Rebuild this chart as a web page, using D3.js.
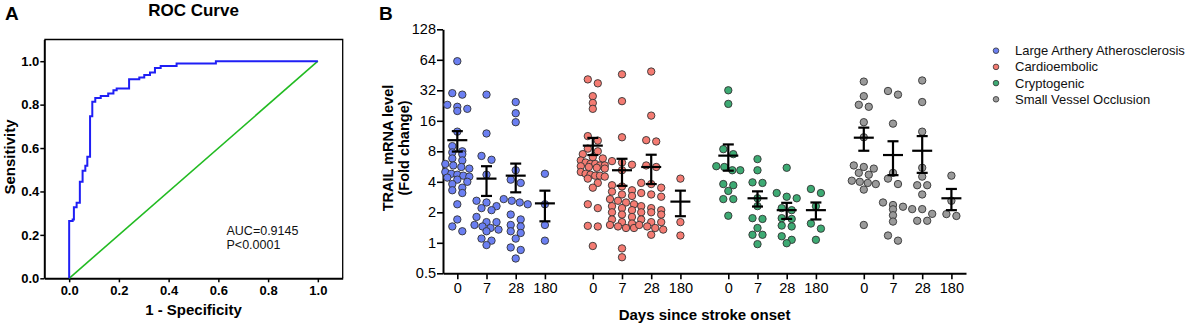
<!DOCTYPE html>
<html><head><meta charset="utf-8">
<script src="https://cdn.jsdelivr.net/npm/d3@7"></script>
<style>body{margin:0;background:#fff}svg{display:block}text{font-family:"Liberation Sans",Arial,sans-serif}</style>
</head><body>
<script>
// ---------- Panel A data ----------
const rocFpr = [0, 0, 0.014, 0.019, 0.030, 0.043, 0.054, 0.065, 0.073, 0.084, 0.093, 0.105, 0.127, 0.157, 0.178, 0.191, 0.241, 0.282, 0.302, 0.325, 0.345, 0.368, 0.432, 0.590, 1.0];
const rocTpr = [0, 0.264, 0.271, 0.327, 0.348, 0.445, 0.495, 0.518, 0.560, 0.747, 0.813, 0.831, 0.840, 0.851, 0.866, 0.874, 0.917, 0.925, 0.937, 0.948, 0.969, 0.978, 0.989, 1.0, 1.0];
const ticksA = [0, 0.2, 0.4, 0.6, 0.8, 1.0];
const aucText = ["AUC=0.9145", "P<0.0001"];

// ---------- Panel B data ----------
const groups = ["Large Arthery Atherosclerosis", "Cardioembolic", "Cryptogenic", "Small Vessel Occlusion"];
const days = ["0", "7", "28", "180"];
const yTicksB = [0.5, 1, 2, 4, 8, 16, 32, 64, 128];
const colors = ["#6b7ff2", "#f47b72", "#3daa73", "#9a9a9a"];

const laa0 = [62, 30, 29, 23, 22, 21, 20, 12.5, 9, 8, 7.8, 7.5, 6.8, 6.5, 6, 5.8, 5.6, 5.4, 5, 4.8, 4.7, 4.6, 4.5, 4.4, 4.2, 4, 3.8, 3.5, 3.3, 3.1, 2.4, 1.7, 1.45, 1.3];
const laa7 = [29, 12, 7.2, 6.6, 4.7, 2.6, 2.5, 2.3, 2.2, 2.1, 1.8, 1.6, 1.6, 1.5, 1.45, 1.4, 1.35, 1.3, 1.1, 1.05, 0.95];
const laa28 = [24.5, 19, 15.5, 5.2, 4.2, 3.9, 2.7, 2.6, 2.5, 2.4, 1.9, 1.7, 1.5, 1.45, 1.3, 1.25, 1.1, 0.9, 0.85, 0.7];
const laa180 = [4.8, 2.4, 1.5, 1.05];
const ce0 = [41, 37.5, 28, 24, 21, 11.3, 10.2, 8.5, 8, 7.5, 7, 6.8, 6.5, 6.2, 6, 6, 5.8, 5.8, 5.7, 5.6, 5.5, 5.4, 5, 4.8, 4.7, 4.6, 4.6, 4.5, 4.3, 3.9, 3.5, 2.4, 2.2, 1.47, 1.45, 0.93];
const ce7 = [46, 25, 11, 6.4, 6.2, 5.9, 5.2, 3.7, 3.6, 3.3, 3.2, 3.0, 2.9, 2.7, 2.6, 2.5, 2.4, 2.3, 2.2, 2.1, 2.0, 1.9, 1.8, 1.7, 1.6, 1.55, 1.5, 1.45, 1.4, 1.4, 0.88, 0.72];
const ce28 = [49, 18, 10.3, 10, 5.8, 5.6, 3.9, 3.8, 3.5, 3.1, 3.0, 2.85, 2.3, 2.2, 2.1, 2.0, 2.0, 1.9, 1.7, 1.6, 1.6, 1.5, 1.45, 1.4, 1.35, 1.2];
const ce180 = [4.3, 1.6, 1.18];
const cr0 = [32, 23.5, 8.4, 7.5, 5.7, 5.6, 5.2, 5.2, 3.8, 3.7, 3.25, 2.7, 2.7, 1.85];
const cr7 = [6.7, 5.2, 3.95, 3.9, 2.75, 2.3, 1.75, 1.72, 1.4, 1.2, 1.2, 0.97];
const cr28 = [5.5, 3.1, 2.85, 2.75, 2.2, 2.1, 1.75, 1.72, 1.48, 1.45, 1.16, 1.07, 0.99];
const cr180 = [3.4, 3.1, 2.3, 1.55, 1.38, 1.07];
const svo0 = [39, 28, 23, 22, 15.5, 11, 5.8, 5.6, 5.4, 4.9, 4.7, 4.1, 4.0, 3.9, 3.8, 3.35, 1.5];
const svo7 = [31.5, 29, 15, 4.9, 4.3, 3.8, 2.5, 2.36, 2.27, 2.14, 1.87, 1.62, 1.18, 1.05];
const svo28 = [40, 24.5, 12.5, 5.5, 4.5, 3.7, 3.7, 3.0, 2.15, 2.15, 1.93, 1.65, 1.65];
const svo180 = [4.6, 2.6, 1.92, 1.84];

const means = [[10.3, 4.3, 4.6, 2.45], [9.1, 5.2, 5.6, 2.55], [7.25, 2.75, 2.1, 2.1], [10.9, 7.35, 8.1, 2.75]];
const sems  = [[2.35, 1.4, 1.45, 0.82], [1.75, 1.55, 1.8, 0.72], [2.1, 0.47, 0.38, 0.4], [2.8, 2.7, 3.2, 0.65]];
const values = [[laa0, laa7, laa28, laa180], [ce0, ce7, ce28, ce180], [cr0, cr7, cr28, cr180], [svo0, svo7, svo28, svo180]];

const W = 1199, H = 327;
const svg = d3.select("body").append("svg").attr("width", W).attr("height", H);

// ================= Panel A =================
const xA = d3.scaleLinear().domain([-0.1, 1.1]).range([44.3, 342.7]);
const yA = d3.scaleLinear().domain([0, 1.1]).range([278.3, 39.5]);
const gA = svg.append("g");

gA.append("text").attr("x", 5).attr("y", 20).attr("font-size", 19).attr("font-weight", "bold").text("A");
gA.append("text").attr("x", 193.5).attr("y", 16).attr("text-anchor", "middle").attr("font-size", 17).attr("font-weight", "bold").text("ROC Curve");

gA.append("path").attr("d", `M${xA(-0.1)},${yA(1.1)}H${xA(1.1)}V${yA(0)}`).attr("fill", "none").attr("stroke", "#000").attr("stroke-width", 1.3);

const axAx = gA.append("g").attr("transform", `translate(0,${yA(0)})`)
  .call(d3.axisBottom(xA).tickValues(ticksA).tickFormat(d3.format(".1f")).tickSize(4).tickSizeOuter(0));
const axAy = gA.append("g").attr("transform", `translate(${xA(-0.1)},0)`)
  .call(d3.axisLeft(yA).tickValues(ticksA).tickFormat(d3.format(".1f")).tickSize(4).tickSizeOuter(0));
[axAx, axAy].forEach(a => {
  a.select(".domain").attr("stroke-width", 2);
  a.selectAll(".tick line").attr("stroke-width", 1.5);
  a.selectAll(".tick text").attr("font-size", 13).attr("font-weight", "bold").attr("fill", "#000")
    .attr("font-family", '"Liberation Sans",Arial,sans-serif');
});
axAx.selectAll(".tick text").attr("dy", "0.71em").attr("y", 7);
axAy.selectAll(".tick text").attr("x", -5);

gA.append("line").attr("x1", xA(0)).attr("y1", yA(0)).attr("x2", xA(1)).attr("y2", yA(1))
  .attr("stroke", "#22bb22").attr("stroke-width", 1.6);
const rocPts = rocFpr.map((f, i) => [f, rocTpr[i]]);
gA.append("path").attr("d", d3.line().x(d => xA(d[0])).y(d => yA(d[1])).curve(d3.curveStepAfter)(rocPts))
  .attr("fill", "none").attr("stroke", "#1f1ff5").attr("stroke-width", 2);

gA.selectAll("text.auc").data(aucText).join("text").attr("class", "auc")
  .attr("x", 226.5).attr("y", (d, i) => 234.5 + i * 14).attr("font-size", 12.5).attr("fill", "#111").text(d => d);

gA.append("text").attr("transform", "translate(15,157) rotate(-90)").attr("text-anchor", "middle")
  .attr("font-size", 15).attr("font-weight", "bold").text("Sensitivity");
gA.append("text").attr("x", 193.5).attr("y", 315).attr("text-anchor", "middle")
  .attr("font-size", 15).attr("font-weight", "bold").text("1 - Specificity");

// ================= Panel B =================
const groupStep = 4.64;
const xB = d3.scaleLinear().domain([-0.49, 17.42]).range([443, 966]);
const yB = d3.scaleLog().base(2).domain([0.5, 128]).range([273.3, 29.3]);
const gB = svg.append("g");

gB.append("text").attr("x", 379).attr("y", 20).attr("font-size", 19).attr("font-weight", "bold").text("B");

const slots = [];
groups.forEach((g, gi) => days.forEach((d, di) => slots.push({ gi, di, pos: gi * groupStep + di, label: d })));

const axBy = gB.append("g").attr("transform", `translate(443,0)`)
  .call(d3.axisLeft(yB).tickValues(yTicksB).tickFormat(d => String(d)).tickSize(6).tickSizeOuter(0));
const axBx = gB.append("g").attr("transform", `translate(0,273.3)`)
  .call(d3.axisBottom(xB).tickValues(slots.map(s => s.pos)).tickFormat((d, i) => slots[i].label).tickSize(6).tickSizeOuter(0));
[axBx, axBy].forEach(a => {
  a.select(".domain").attr("stroke-width", 2);
  a.selectAll(".tick line").attr("stroke-width", 1.6);
  a.selectAll(".tick text").attr("font-size", 14.5).attr("fill", "#000")
    .attr("font-family", '"Liberation Sans",Arial,sans-serif');
});
axBx.selectAll(".tick text").attr("y", 9);
axBy.selectAll(".tick text").attr("x", -7);

gB.append("text").attr("transform", "translate(392.5,148) rotate(-90)").attr("text-anchor", "middle")
  .attr("font-size", 14.5).attr("font-weight", "bold").text("TRAIL mRNA level");
gB.append("text").attr("transform", "translate(408.5,148) rotate(-90)").attr("text-anchor", "middle")
  .attr("font-size", 14.5).attr("font-weight", "bold").text("(Fold change)");
gB.append("text").attr("x", 704.5).attr("y", 320).attr("text-anchor", "middle")
  .attr("font-size", 15).attr("font-weight", "bold").text("Days since stroke onset");

function swarm(vals, cx) {
  const pts = vals.map(v => ({ v, y: yB(v) })).sort((a, b) => a.y - b.y);
  const bins = []; let cur = null;
  pts.forEach(p => {
    if (!cur || p.y - cur.y0 > 5.5) { cur = { y0: p.y, items: [] }; bins.push(cur); }
    cur.items.push(p);
  });
  bins.forEach(b => {
    const n = b.items.length;
    const sp = n > 1 ? Math.min(10, 24 / (n - 1)) : 0;
    b.items.forEach((p, i) => { p.x = cx + (i - (n - 1) / 2) * sp; });
  });
  return pts;
}

slots.forEach(s => {
  const cx = xB(s.pos);
  const pts = swarm(values[s.gi][s.di], cx);
  gB.append("g").selectAll("circle").data(pts).join("circle")
    .attr("cx", d => d.x).attr("cy", d => d.y).attr("r", 3.7)
    .attr("fill", colors[s.gi]).attr("stroke", "#333").attr("stroke-width", 0.9);
});
slots.forEach(s => {
  const cx = xB(s.pos);
  const m = means[s.gi][s.di], e = sems[s.gi][s.di];
  const g = gB.append("g").attr("stroke", "#000").attr("stroke-width", 2.2);
  g.append("line").attr("x1", cx - 10).attr("x2", cx + 10).attr("y1", yB(m)).attr("y2", yB(m));
  g.append("line").attr("x1", cx).attr("x2", cx).attr("y1", yB(m + e)).attr("y2", yB(m - e));
  g.append("line").attr("x1", cx - 5.5).attr("x2", cx + 5.5).attr("y1", yB(m + e)).attr("y2", yB(m + e));
  g.append("line").attr("x1", cx - 5.5).attr("x2", cx + 5.5).attr("y1", yB(m - e)).attr("y2", yB(m - e));
});

const leg = gB.append("g");
groups.forEach((g, i) => {
  const y = 50.7 + i * 16.2;
  leg.append("circle").attr("cx", 996).attr("cy", y).attr("r", 2.8).attr("fill", colors[i]).attr("stroke", "#333").attr("stroke-width", 0.8);
  leg.append("text").attr("x", 1015).attr("y", y + 4.5).attr("font-size", 13).attr("fill", "#111").text(g);
});
</script>
</body></html>
